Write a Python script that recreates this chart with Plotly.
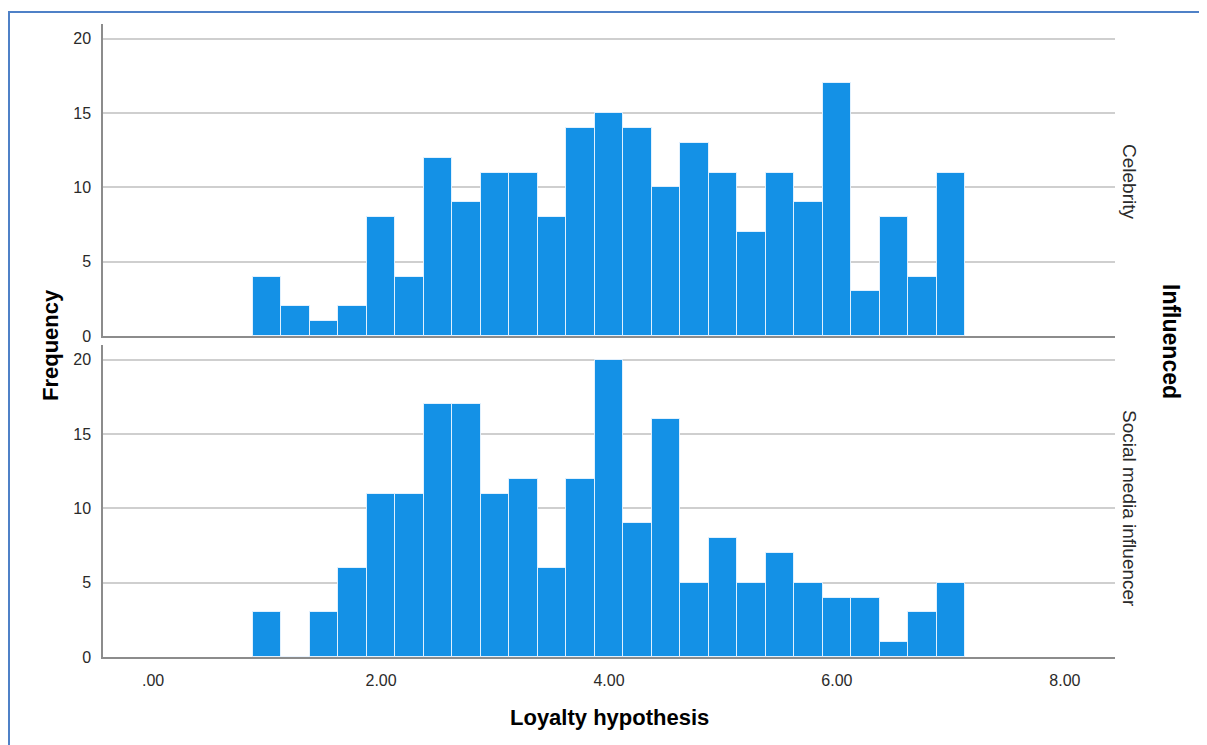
import plotly.graph_objects as go
from plotly.subplots import make_subplots

bin_centers = [1.00, 1.25, 1.50, 1.75, 2.00, 2.25, 2.50, 2.75, 3.00, 3.25,
               3.50, 3.75, 4.00, 4.25, 4.50, 4.75, 5.00, 5.25, 5.50, 5.75,
               6.00, 6.25, 6.50, 6.75, 7.00]
bin_width = 0.25
celebrity = [4, 2, 1, 2, 8, 4, 12, 9, 11, 11, 8, 14, 15, 14, 10, 13, 11, 7,
             11, 9, 17, 3, 8, 4, 11]
social = [3, 0, 3, 6, 11, 11, 17, 17, 11, 12, 6, 12, 20, 9, 16, 5, 8, 5, 7,
          5, 4, 4, 1, 3, 5]
x_tickvals = [0, 2, 4, 6, 8]
x_ticktext = [".00", "2.00", "4.00", "6.00", "8.00"]
y_tickvals = [0, 5, 10, 15, 20]
panels = ["Celebrity", "Social media influencer"]

FONT = "Arial, Liberation Sans, sans-serif"
BAR = "#1491e6"

# page body has an 8px margin; work in reference pixel coords and shift
OFF = 8
W, H = 1207 - OFF, 745 - OFF
L, T = 103 - OFF, 24 - OFF
R = W - (1115 - OFF)
B = H - (657 - OFF)
pw, ph = W - L - R, H - T - B

fig = make_subplots(rows=2, cols=1, shared_xaxes=False, vertical_spacing=0.0142)

for i, vals in enumerate([celebrity, social]):
    fig.add_trace(go.Bar(x=bin_centers, y=vals, width=bin_width,
                         marker=dict(color=BAR,
                                     line=dict(color="rgba(235,245,255,0.9)", width=1)),
                         showlegend=False), row=i + 1, col=1)

for i in (1, 2):
    fig.update_xaxes(range=[-0.44, 8.44], tickvals=x_tickvals, ticktext=x_ticktext,
                     showticklabels=(i == 2), showgrid=False, zeroline=False,
                     showline=True, linecolor="#8c8c8c", linewidth=1.5,
                     ticks="", tickfont=dict(family=FONT, size=16, color="#2a2a2a"),
                     ticklabelstandoff=8, row=i, col=1)
    fig.update_yaxes(range=[0, 21], tickvals=y_tickvals, showgrid=True,
                     gridcolor="#cfcfcf", gridwidth=1.5, zeroline=False,
                     showline=True, linecolor="#8c8c8c", linewidth=1.5,
                     ticks="", tickfont=dict(family=FONT, size=16, color="#2a2a2a"),
                     ticklabelstandoff=7, row=i, col=1)

fig.update_layout(yaxis=dict(domain=[(657 - 336) / ph, 1.0]),
                  yaxis2=dict(domain=[0.0, (657 - 345) / ph]))


def px_x(x):
    return (x - OFF - L) / pw


def px_y(y):
    return (H - (y - OFF) - B) / ph


annos = [
    dict(text="<b>Frequency</b>", x=px_x(50), y=px_y(345), textangle=-90,
         font=dict(family=FONT, size=22, color="#000")),
    dict(text="<b>Loyalty hypothesis</b>", x=px_x(609), y=px_y(717), textangle=0,
         font=dict(family=FONT, size=22, color="#000")),
    dict(text="<b>Influenced</b>", x=px_x(1171), y=px_y(341), textangle=90,
         font=dict(family=FONT, size=23, color="#000")),
    dict(text=panels[0], x=px_x(1130), y=px_y(181), textangle=90,
         font=dict(family=FONT, size=19, color="#2a2a2a")),
    dict(text=panels[1], x=px_x(1130), y=px_y(508), textangle=90,
         font=dict(family=FONT, size=19, color="#2a2a2a")),
]
for a in annos:
    a.update(xref="paper", yref="paper", showarrow=False, xanchor="center",
             yanchor="middle")
fig.update_layout(annotations=annos)

frame = "#4f81c7"
fig.add_shape(type="line", xref="paper", yref="paper", x0=px_x(8), x1=px_x(1220),
              y0=px_y(12), y1=px_y(12), line=dict(color=frame, width=2))
fig.add_shape(type="line", xref="paper", yref="paper", x0=px_x(9), x1=px_x(9),
              y0=px_y(12), y1=px_y(760), line=dict(color=frame, width=2))

fig.update_layout(width=W, height=H, margin=dict(l=L, r=R, t=T, b=B),
                  paper_bgcolor="white", plot_bgcolor="white", bargap=0,
                  font=dict(family=FONT))

fig.write_html("out.html")
